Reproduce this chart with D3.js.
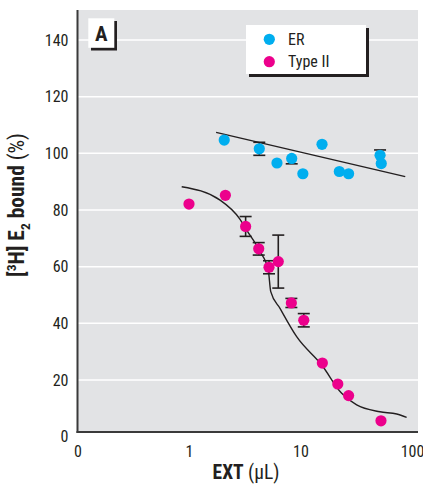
<!DOCTYPE html>
<html><head><meta charset="utf-8">
<script src="https://cdn.jsdelivr.net/npm/d3@7"></script>
<style>
body{margin:0;background:#fff}
text{font-family:"Liberation Sans Narrow","Arial Narrow","Roboto Condensed","DejaVu Sans Condensed",sans-serif;fill:#231f20}
</style>
</head><body><svg id="c" width="423" height="492"></svg>
<script>
// ---- data ----
const xTicks=[0.1,1,10,100];
const xTickLabels=["0","1","10","100"];
const yTicks=[0,20,40,60,80,100,120,140];
const seriesNames=["ER","Type II"];
const seriesColors=["#00aeef","#ec008c"];
const erX=[2.07,4.27,6.15,8.34,10.5,15.6,22.3,27.0,51.7,53.0];
const erY=[104.7,101.6,96.6,98.2,92.8,103.2,93.6,92.8,99.3,96.4];
const erErrHi=[0,2.3,0,0,0,0,0,0,1.9,0];
const erErrLo=[0,2.3,0,1.9,0,0,0,0,0,0];
const t2X=[1.0,2.12,3.22,4.22,5.22,6.32,8.28,10.7,15.7,21.6,27.0,52.7];
const t2Y=[82.1,85.2,74.2,66.3,59.8,61.8,47.2,41.1,26.0,18.6,14.5,5.6];
const t2ErrHi=[0,0,3.5,2.2,2.3,9.35,1.6,2.35,0,0,0,0];
const t2ErrLo=[0,0,3.5,2.2,2.3,9.35,1.6,2.35,0,0,0,0];
const erFitX=[1.75,87];
const erFitY=[107.4,91.8];
const t2FitX=[0.86,1.9,2.86,3.29,4.34,5.14,5.41,6.55,9.24,15.5,23.4,31.9,51.6,73.0,89.5];
const t2FitY=[88.2,83.5,76.8,72.9,65.3,58.8,51.2,45.3,35.3,25.3,15.3,11.2,8.8,8.0,6.8];

// ---- layout ----
const L=77.5, R=418, T=10, B=432;
const x=d3.scaleLog().domain([0.1,100]).range([77.5,412]);
const y=d3.scaleLinear().domain([0,140]).range([436.7,40]);
const svg=d3.select("#c");
const ink="#231f20";

svg.append("rect").attr("x",L).attr("y",T).attr("width",R-L).attr("height",B-T).attr("fill","#e2e3e5");
svg.append("g").selectAll("line").data(yTicks.filter(d=>d>0)).join("line")
  .attr("x1",L).attr("x2",R).attr("y1",d=>y(d)).attr("y2",d=>y(d))
  .attr("stroke","#fff").attr("stroke-width",1.5);

// fits
const line=d3.line().x(d=>x(d[0])).y(d=>y(d[1]));
svg.append("path").attr("d",line(erFitX.map((v,i)=>[v,erFitY[i]])))
  .attr("fill","none").attr("stroke",ink).attr("stroke-width",1.4);
svg.append("path").attr("d",line.curve(d3.curveMonotoneX)(t2FitX.map((v,i)=>[v,t2FitY[i]])))
  .attr("fill","none").attr("stroke",ink).attr("stroke-width",1.4);

function series(X,Y,H,Lo,color){
  const pts=X.map((v,i)=>({x:v,y:Y[i],h:H[i],l:Lo[i]}));
  const eb=svg.append("g").attr("stroke",ink).attr("stroke-width",1.6);
  pts.filter(d=>d.h>0||d.l>0).forEach(d=>{
    const cx=x(d.x), y1=y(d.y+d.h), y2=y(d.y-d.l);
    eb.append("line").attr("x1",cx).attr("x2",cx).attr("y1",y1).attr("y2",y2);
    if(d.h>0) eb.append("line").attr("x1",cx-6).attr("x2",cx+6).attr("y1",y1).attr("y2",y1);
    if(d.l>0) eb.append("line").attr("x1",cx-6).attr("x2",cx+6).attr("y1",y2).attr("y2",y2);
  });
  svg.append("g").selectAll("circle").data(pts).join("circle")
    .attr("cx",d=>x(d.x)).attr("cy",d=>y(d.y)).attr("r",5.6).attr("fill",color);
}
series(erX,erY,erErrHi,erErrLo,seriesColors[0]);
series(t2X,t2Y,t2ErrHi,t2ErrLo,seriesColors[1]);

// axes
const yAx=svg.append("g").attr("transform",`translate(${L},0)`)
  .call(d3.axisLeft(y).tickValues(yTicks).tickSize(0).tickPadding(9));
yAx.select(".domain").remove();
yAx.selectAll("text").attr("font-size",16).style("font-family",null);
const xAx=svg.append("g").attr("transform",`translate(0,${B})`)
  .call(d3.axisBottom(x).tickValues(xTicks).tickFormat((d,i)=>xTickLabels[i]).tickSize(0).tickPadding(14));
xAx.select(".domain").remove();
xAx.selectAll("text").attr("font-size",16).style("font-family",null);
svg.append("line").attr("x1",L).attr("x2",L).attr("y1",T).attr("y2",B+1).attr("stroke","#3a3a3a").attr("stroke-width",2);
svg.append("line").attr("x1",L-1).attr("x2",R).attr("y1",B).attr("y2",B).attr("stroke","#3a3a3a").attr("stroke-width",2);

// legend
svg.append("rect").attr("x",249).attr("y",28).attr("width",120).attr("height",49).attr("fill",ink);
svg.append("rect").attr("x",246).attr("y",25).attr("width",120).attr("height",49).attr("fill","#fff");
seriesNames.forEach((n,i)=>{
  svg.append("circle").attr("cx",269.3).attr("cy",39.3+i*22.4).attr("r",5.6).attr("fill",seriesColors[i]);
  svg.append("text").attr("x",288).attr("y",44.5+i*22.4).attr("font-size",16).text(n);
});

// panel label
svg.append("rect").attr("x",91).attr("y",21).attr("width",26).attr("height",29.5).attr("fill",ink);
svg.append("rect").attr("x",88.3).attr("y",18.3).attr("width",26).attr("height",29.5).attr("fill","#fff");
svg.append("text").attr("x",101.3).attr("y",40.5).attr("text-anchor","middle").attr("font-size",21).attr("font-weight","bold").text("A");

// axis titles
const yl=svg.append("text").attr("transform","translate(24,205) rotate(-90)").attr("text-anchor","middle").attr("font-size",21.5);
yl.append("tspan").attr("font-weight","bold").text("[");
yl.append("tspan").attr("font-weight","bold").attr("font-size",13.5).attr("dy",-8).text("3");
yl.append("tspan").attr("font-weight","bold").attr("dy",8).text("H] E");
yl.append("tspan").attr("font-weight","bold").attr("font-size",13.5).attr("dy",5.5).text("2");
yl.append("tspan").attr("font-weight","bold").attr("dy",-5.5).text(" bound ");
yl.append("tspan").text("(%)");
const xl=svg.append("text").attr("x",246).attr("y",479).attr("text-anchor","middle").attr("font-size",19.5);
xl.append("tspan").attr("font-weight","bold").text("EXT");
xl.append("tspan").text(" (μL)");
</script></body></html>
